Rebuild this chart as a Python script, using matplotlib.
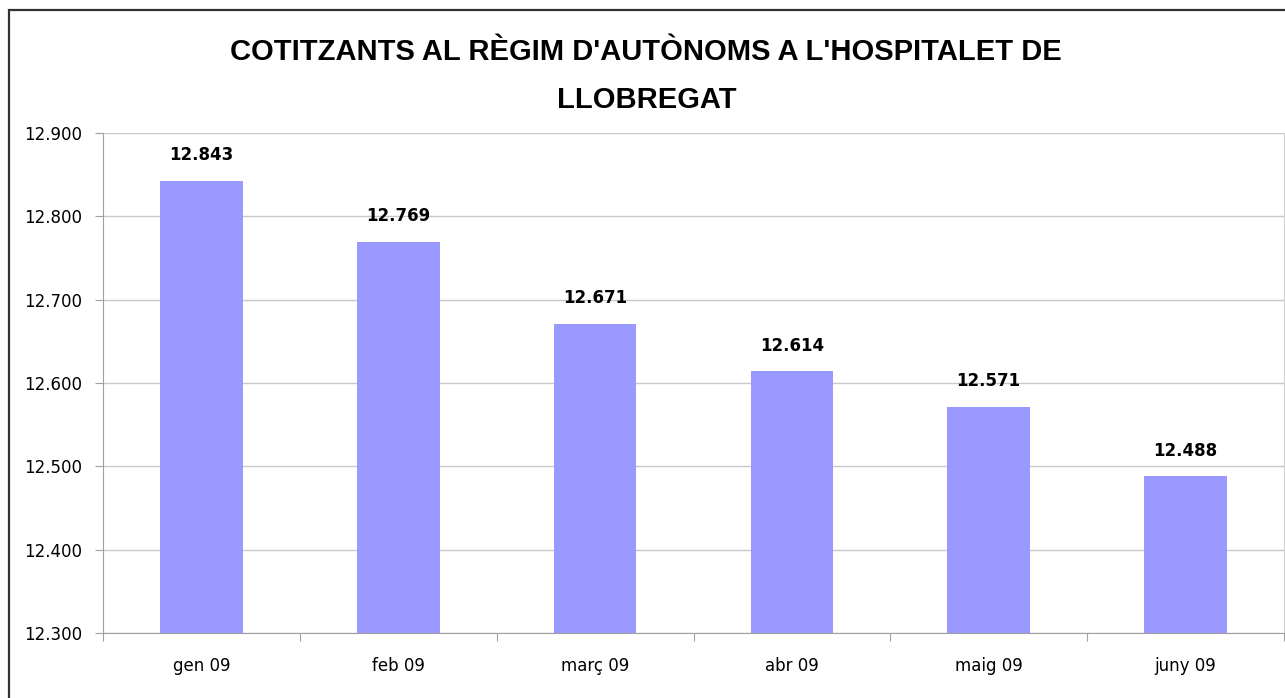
import numpy as np
import matplotlib.pyplot as plt
from matplotlib.patches import Rectangle
from matplotlib.ticker import FuncFormatter

months = ["gen 09", "feb 09", "març 09", "abr 09", "maig 09", "juny 09"]
cotitzants = [12843, 12769, 12671, 12614, 12571, 12488]
yticks = [12300, 12400, 12500, 12600, 12700, 12800, 12900]

def punt(v, pos=None):
    return "{:,}".format(int(round(v))).replace(",", ".")

plt.rcParams['font.family'] = ['DejaVu Sans']

fig = plt.figure(figsize=(12.85, 6.98), dpi=100)
ax = fig.add_axes([103/1285, 65/698, 1181/1285, 500/698])

x = np.arange(len(months))
ax.bar(x, cotitzants, width=0.42, color="#9999FF", zorder=2)
for xi, v in zip(x, cotitzants):
    ax.annotate(punt(v), (xi, v), xytext=(0, 12), textcoords="offset points",
                ha="center", va="bottom", fontsize=12, fontweight="bold")

ax.set_xlim(-0.5, len(months) - 0.5)
ax.set_ylim(12300, 12900)
ax.set_yticks(yticks)
ax.yaxis.set_major_formatter(FuncFormatter(punt))
ax.grid(axis="y", color="#C8C8C8", linewidth=1, zorder=0)

# category boundaries as ticks, labels at centres
ax.set_xticks(np.arange(len(months) + 1) - 0.5)
ax.set_xticklabels([])
ax.set_xticks(x, minor=True)
ax.set_xticklabels(months, minor=True)
ax.tick_params(axis="x", which="major", length=6, color="#A0A0A0", direction="out")
ax.tick_params(axis="x", which="minor", length=0, labelsize=12, pad=17)
ax.tick_params(axis="y", length=6, color="#A0A0A0", labelsize=12, pad=9)

ax.spines["top"].set_visible(False)
ax.spines["left"].set_color("#A0A0A0")
ax.spines["bottom"].set_color("#A0A0A0")
ax.spines["right"].set_color("#D0D0D0")

fig.text(0.503, 1 - 52/698, "COTITZANTS AL RÈGIM D'AUTÒNOMS A L'HOSPITALET DE",
         ha="center", va="center", fontsize=21, fontweight="bold", family="Liberation Sans")
fig.text(0.503, 1 - 100/698, "LLOBREGAT",
         ha="center", va="center", fontsize=21, fontweight="bold", family="Liberation Sans")

fig.patches.append(Rectangle((9/1285, -0.02), 1.05, 1 - 10/698 + 0.02,
                             transform=fig.transFigure, fill=False,
                             edgecolor="#333333", linewidth=1.6))

fig.savefig("out.png", dpi=100)
